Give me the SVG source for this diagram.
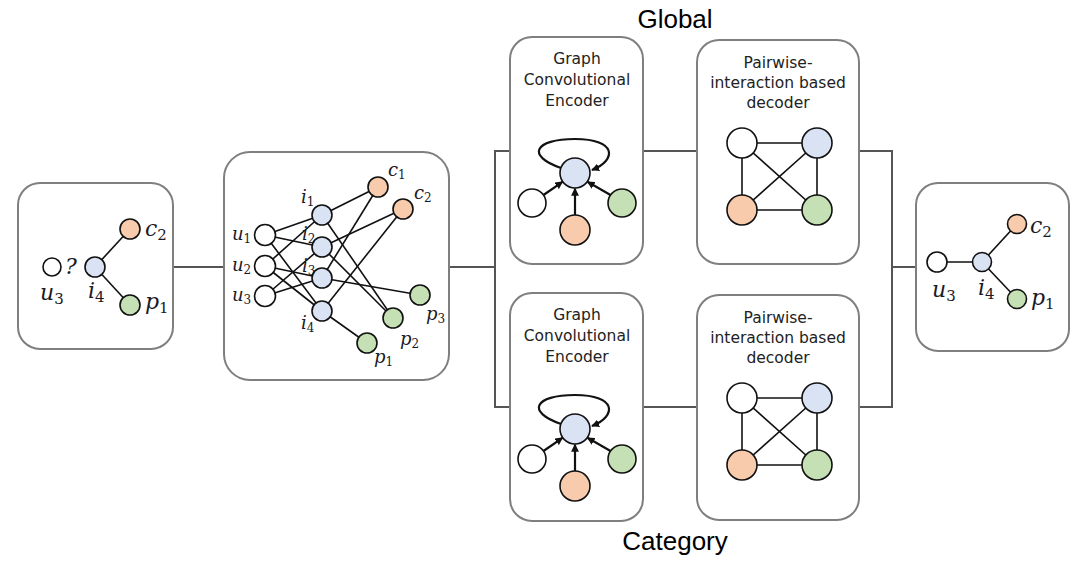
<svg xmlns="http://www.w3.org/2000/svg" width="1091" height="562" viewBox="0 0 1091 562">
<style>
.box{fill:#fff;stroke:#7f7f7f;stroke-width:2}
.conn{fill:none;stroke:#555;stroke-width:2}
.e{stroke:#111;stroke-width:1.6;fill:none}
.n{stroke:#111;stroke-width:1.6}
.w{fill:#fff}.b{fill:#dae3f3}.o{fill:#f8cbad}.g{fill:#c5e0b4}
.lab{font-family:"DejaVu Serif","Liberation Serif",serif;font-style:italic;fill:#1a1a24}
.big{font-size:22px}.sm{font-size:18px}
.sub{font-style:normal}
.bsub{font-size:15px}.ssub{font-size:12px}
.title{font-family:"DejaVu Sans","Liberation Sans",sans-serif;font-size:15.5px;fill:#222;text-anchor:middle}
.cap{font-family:"Liberation Sans",Arial,sans-serif;font-size:26px;fill:#000;text-anchor:middle}
.arr{stroke:#111;stroke-width:2.2;fill:none;marker-end:url(#ah)}
</style>
<defs>
<marker id="ah" viewBox="0 0 10 10" refX="9" refY="5" markerWidth="3.6" markerHeight="3.6" orient="auto" markerUnits="strokeWidth">
<path d="M0,0 L10,5 L0,10 z" fill="#111"/>
</marker>
</defs>

<g id="connectors">
<polyline class="conn" points="172,267 224,267"/>
<polyline class="conn" points="449,267 495,267"/>
<polyline class="conn" points="510,151 495,151 495,407 510,407"/>
<line class="conn" x1="643" y1="151" x2="697" y2="151"/>
<line class="conn" x1="643" y1="407" x2="697" y2="407"/>
<polyline class="conn" points="859,151 892,151 892,407 859,407"/>
<line class="conn" x1="892" y1="267" x2="916" y2="267"/>
</g>

<g id="input-graph">
<rect class="box" x="18" y="183" width="155" height="166" rx="22"/>
<line class="e" x1="95" y1="267" x2="130" y2="229"/>
<line class="e" x1="95" y1="267" x2="130" y2="305"/>
<circle class="n w" cx="52" cy="267" r="9"/>
<circle class="n b" cx="95" cy="267" r="10"/>
<circle class="n o" cx="130" cy="229" r="10"/>
<circle class="n g" cx="130" cy="305" r="10"/>
<text class="lab big" x="65" y="274">?</text>
<text class="lab big" x="40" y="300">u<tspan class="sub bsub" dy="4">3</tspan></text>
<text class="lab big" x="88" y="298">i<tspan class="sub bsub" dy="4">4</tspan></text>
<text class="lab big" x="145" y="236">c<tspan class="sub bsub" dy="4">2</tspan></text>
<text class="lab big" x="145" y="309">p<tspan class="sub bsub" dy="4">1</tspan></text>
</g>

<g id="graph-network">
<rect class="box" x="224" y="152" width="225" height="228" rx="26"/>
<g>
<line class="e" x1="265" y1="235" x2="322" y2="215"/>
<line class="e" x1="265" y1="235" x2="322" y2="247"/>
<line class="e" x1="265" y1="235" x2="322" y2="311"/>
<line class="e" x1="265" y1="266" x2="322" y2="215"/>
<line class="e" x1="265" y1="266" x2="322" y2="278"/>
<line class="e" x1="265" y1="266" x2="322" y2="311"/>
<line class="e" x1="265" y1="296" x2="322" y2="247"/>
<line class="e" x1="265" y1="296" x2="322" y2="278"/>
<line class="e" x1="322" y1="215" x2="378" y2="187"/>
<line class="e" x1="322" y1="215" x2="393" y2="318"/>
<line class="e" x1="322" y1="247" x2="403" y2="209"/>
<line class="e" x1="322" y1="247" x2="393" y2="318"/>
<line class="e" x1="322" y1="278" x2="420" y2="295"/>
<line class="e" x1="322" y1="278" x2="378" y2="187"/>
<line class="e" x1="322" y1="311" x2="403" y2="209"/>
<line class="e" x1="322" y1="311" x2="367" y2="343"/>
</g>
<circle class="n w" cx="265" cy="235" r="10.5"/>
<circle class="n w" cx="265" cy="266" r="10.5"/>
<circle class="n w" cx="265" cy="296" r="10.5"/>
<circle class="n b" cx="322" cy="215" r="10"/>
<circle class="n b" cx="322" cy="247" r="10"/>
<circle class="n b" cx="322" cy="278" r="10"/>
<circle class="n b" cx="322" cy="311" r="10"/>
<circle class="n o" cx="378" cy="187" r="10"/>
<circle class="n o" cx="403" cy="209" r="10"/>
<circle class="n g" cx="420" cy="295" r="10"/>
<circle class="n g" cx="393" cy="318" r="10"/>
<circle class="n g" cx="367" cy="343" r="10"/>
<text class="lab sm" x="232" y="240">u<tspan class="sub ssub" dy="3">1</tspan></text>
<text class="lab sm" x="232" y="271">u<tspan class="sub ssub" dy="3">2</tspan></text>
<text class="lab sm" x="232" y="301">u<tspan class="sub ssub" dy="3">3</tspan></text>
<text class="lab sm" x="301" y="203">i<tspan class="sub ssub" dy="3">1</tspan></text>
<text class="lab sm" x="302" y="240">i<tspan class="sub ssub" dy="3">2</tspan></text>
<text class="lab sm" x="302" y="272">i<tspan class="sub ssub" dy="3">3</tspan></text>
<text class="lab sm" x="301" y="329">i<tspan class="sub ssub" dy="3">4</tspan></text>
<text class="lab sm" x="388" y="176">c<tspan class="sub ssub" dy="3">1</tspan></text>
<text class="lab sm" x="414" y="199">c<tspan class="sub ssub" dy="3">2</tspan></text>
<text class="lab sm" x="426" y="320">p<tspan class="sub ssub" dy="3">3</tspan></text>
<text class="lab sm" x="400" y="345">p<tspan class="sub ssub" dy="3">2</tspan></text>
<text class="lab sm" x="374" y="363">p<tspan class="sub ssub" dy="3">1</tspan></text>
</g>

<text class="cap" x="675" y="28">Global</text>
<text class="cap" x="675" y="550">Category</text>

<g id="global-encoder">
<rect class="box" x="510" y="37" width="133" height="227" rx="22"/>
<text class="title" x="577" y="64">Graph</text>
<text class="title" x="577" y="85">Convolutional</text>
<text class="title" x="577" y="106">Encoder</text>
<path class="arr" d="M561,168 C526,156 534,139 575,139 C617,139 617,160 592,170"/>
<line class="arr" x1="543.5" y1="195" x2="562.5" y2="181.8"/>
<line class="arr" x1="575" y1="215" x2="575" y2="188.5"/>
<line class="arr" x1="610.5" y1="195" x2="587.5" y2="181.8"/>
<circle class="n b" cx="575" cy="173" r="15"/>
<circle class="n w" cx="532" cy="203" r="14"/>
<circle class="n o" cx="575" cy="230" r="15"/>
<circle class="n g" cx="622" cy="203" r="14"/>
</g>

<g id="global-decoder">
<rect class="box" x="697" y="40" width="162" height="224" rx="22"/>
<text class="title" x="778" y="68">Pairwise-</text>
<text class="title" x="778" y="88">interaction based</text>
<text class="title" x="778" y="108">decoder</text>
<g class="e">
<line x1="742" y1="143" x2="817" y2="143"/>
<line x1="742" y1="210" x2="817" y2="210"/>
<line x1="742" y1="143" x2="742" y2="210"/>
<line x1="817" y1="143" x2="817" y2="210"/>
<line x1="742" y1="143" x2="817" y2="210"/>
<line x1="817" y1="143" x2="742" y2="210"/>
</g>
<circle class="n w" cx="742" cy="143" r="15"/>
<circle class="n b" cx="817" cy="143" r="15"/>
<circle class="n o" cx="742" cy="210" r="15"/>
<circle class="n g" cx="817" cy="210" r="15"/>
</g>

<g id="category-encoder" transform="translate(0,256)">
<rect class="box" x="510" y="37" width="133" height="228" rx="22"/>
<text class="title" x="577" y="64">Graph</text>
<text class="title" x="577" y="85">Convolutional</text>
<text class="title" x="577" y="106">Encoder</text>
<path class="arr" d="M561,168 C526,156 534,139 575,139 C617,139 617,160 592,170"/>
<line class="arr" x1="543.5" y1="195" x2="562.5" y2="181.8"/>
<line class="arr" x1="575" y1="215" x2="575" y2="188.5"/>
<line class="arr" x1="610.5" y1="195" x2="587.5" y2="181.8"/>
<circle class="n b" cx="575" cy="173" r="15"/>
<circle class="n w" cx="532" cy="203" r="14"/>
<circle class="n o" cx="575" cy="230" r="15"/>
<circle class="n g" cx="622" cy="203" r="14"/>
</g>

<g id="category-decoder" transform="translate(0,255)">
<rect class="box" x="697" y="40" width="162" height="225" rx="22"/>
<text class="title" x="778" y="68">Pairwise-</text>
<text class="title" x="778" y="88">interaction based</text>
<text class="title" x="778" y="108">decoder</text>
<g class="e">
<line x1="742" y1="143" x2="817" y2="143"/>
<line x1="742" y1="210" x2="817" y2="210"/>
<line x1="742" y1="143" x2="742" y2="210"/>
<line x1="817" y1="143" x2="817" y2="210"/>
<line x1="742" y1="143" x2="817" y2="210"/>
<line x1="817" y1="143" x2="742" y2="210"/>
</g>
<circle class="n w" cx="742" cy="143" r="15"/>
<circle class="n b" cx="817" cy="143" r="15"/>
<circle class="n o" cx="742" cy="210" r="15"/>
<circle class="n g" cx="817" cy="210" r="15"/>
</g>

<g id="output-graph">
<rect class="box" x="916" y="183" width="153" height="168" rx="22"/>
<line class="e" x1="937" y1="262" x2="982" y2="262"/>
<line class="e" x1="982" y1="262" x2="1017" y2="224"/>
<line class="e" x1="982" y1="262" x2="1017" y2="299"/>
<circle class="n w" cx="937" cy="262" r="10"/>
<circle class="n b" cx="982" cy="262" r="9.5"/>
<circle class="n o" cx="1017" cy="224" r="9.5"/>
<circle class="n g" cx="1017" cy="299" r="9.5"/>
<text class="lab big" x="932" y="297">u<tspan class="sub bsub" dy="4">3</tspan></text>
<text class="lab big" x="978" y="295">i<tspan class="sub bsub" dy="4">4</tspan></text>
<text class="lab big" x="1030" y="233">c<tspan class="sub bsub" dy="4">2</tspan></text>
<text class="lab big" x="1031" y="305">p<tspan class="sub bsub" dy="4">1</tspan></text>
</g>
</svg>
